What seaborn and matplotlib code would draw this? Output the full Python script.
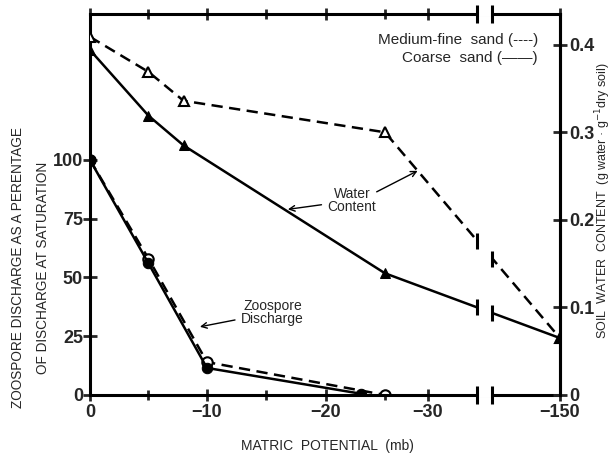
import numpy as np
import matplotlib
matplotlib.use('Agg')
import matplotlib.pyplot as plt
import seaborn as sns

# matric potential (mb) and measured values
pot_dis_mf = [0, -5, -10, -25]
dis_mf = [100, 58, 14, 0]
pot_dis_c = [0, -5, -10, -23]
dis_c = [100, 56, 11.5, 0.5]

pot_wat = [0, -5, -8, -25, -150]
wat_mf = [0.409, 0.369, 0.336, 0.300, 0.065]
wat_c = [0.394, 0.319, 0.285, 0.139, 0.065]

x_ticks = [0, -10, -20, -30, -150]
x_ticklabels = ['0', '\u221210', '\u221220', '\u221230', '\u2212150']
x_minor = [-5, -15, -25]
left_ticks = [0, 25, 50, 75, 100]
right_ticks = [0, 0.1, 0.2, 0.3, 0.4]
right_ticklabels = ['0', '0.1', '0.2', '0.3', '0.4']

BREAK = -40

# broken x axis: piecewise linear scale, increasing in x
knot_val = np.array([-300, -150, -40, -30, -25, -20, -10, 0, 50])
knot_pos = np.array([-560, -470, -401, -338, -295, -236, -117, 0, 585])


def fwd(x):
    return np.interp(np.asarray(x, dtype=float), knot_val, knot_pos)


def inv(p):
    return np.interp(np.asarray(p, dtype=float), knot_pos, knot_val)


sns.set_style('white')
plt.rcParams['font.family'] = ['Liberation Sans', 'DejaVu Sans']

fig = plt.figure(figsize=(6.16, 4.54), dpi=100)
ax = fig.add_axes([0.146, 0.130, 0.763, 0.839])
ax.set_xscale('function', functions=(fwd, inv))
ax2 = ax.twinx()

dash = (0, (4.5, 2.6))

# zoospore discharge (left axis)
sns.lineplot(x=pot_dis_mf, y=dis_mf, ax=ax, color='black', lw=1.8, linestyle=dash,
             marker='o', markersize=7.5, markerfacecolor='white', markeredgecolor='black',
             markeredgewidth=1.5, sort=False)
sns.lineplot(x=pot_dis_c, y=dis_c, ax=ax, color='black', lw=1.8,
             marker='o', markersize=7.5, markerfacecolor='black', markeredgecolor='black', sort=False)

# water content (right axis)
sns.lineplot(x=pot_wat, y=wat_mf, ax=ax2, color='black', lw=1.8, linestyle=dash,
             marker='^', markersize=7, markerfacecolor='white', markeredgecolor='black',
             markeredgewidth=1.5, sort=False)
sns.lineplot(x=pot_wat, y=wat_c, ax=ax2, color='black', lw=1.8,
             marker='^', markersize=7, markerfacecolor='black', markeredgecolor='black', sort=False)

# break marks on the water-content lines
px = fwd(pot_wat)[::-1]
for yy in (wat_mf, wat_c):
    xb = np.array([BREAK + 2.2, BREAK - 2.2])
    yb = np.interp(fwd(xb), px, np.array(yy)[::-1])
    ax2.plot(xb, yb, color='white', lw=5, solid_capstyle='butt', zorder=5)
    ax2.plot(xb, yb, ls='none', marker='|', markersize=11, markeredgewidth=2.2,
             color='black', zorder=6)

ax.set_xlim(0, -150)
ax.set_ylim(0, 162)
ax2.set_ylim(0, 0.435)

ax.set_xticks(x_ticks)
ax.set_xticklabels(x_ticklabels)
ax.set_xticks(x_minor, minor=True)
ax.set_yticks(left_ticks)
ax.set_yticklabels([str(t) for t in left_ticks])
ax2.set_yticks(right_ticks)
ax2.set_yticklabels(right_ticklabels)

for a in (ax, ax2):
    for s in a.spines.values():
        s.set_linewidth(2.2)
        s.set_color('black')
ax2.spines['left'].set_visible(False)
ax2.spines['top'].set_visible(False)
ax2.spines['bottom'].set_visible(False)

ax.tick_params(axis='x', which='both', direction='inout', top=True, bottom=True,
               length=9, width=2, labelsize=13, pad=2)
ax.tick_params(axis='x', which='minor', length=7)
ax.tick_params(axis='y', direction='inout', length=10, width=2, labelsize=13, pad=0)
ax2.tick_params(axis='y', direction='inout', length=10, width=2, labelsize=13, pad=2)
for lab in ax.get_xticklabels() + ax.get_yticklabels() + ax2.get_yticklabels():
    lab.set_fontweight('bold')
ax.set_xlabel('')
ax.set_ylabel('')
ax2.set_ylabel('')

# break on top and bottom spines
for yy in (0, 1):
    ax.plot([BREAK + 2.2, BREAK - 2.2], [yy, yy], transform=ax.get_xaxis_transform(),
            color='white', lw=4, clip_on=False, zorder=10, solid_capstyle='butt')
    ax.plot([BREAK + 2.2, BREAK - 2.2], [yy, yy], transform=ax.get_xaxis_transform(),
            ls='none', marker='|', markersize=13, markeredgewidth=2.2, color='black',
            clip_on=False, zorder=11)

# legend as text
ax.text(0.953, 0.932, 'Medium-fine  sand (----)', transform=ax.transAxes,
        ha='right', va='center', fontsize=11)
ax.text(0.953, 0.884, 'Coarse  sand (\u2014\u2014)', transform=ax.transAxes,
        ha='right', va='center', fontsize=11)

# annotations
ax2.annotate('Water\nContent', xy=(-16.8, 0.212), xytext=(-22.2, 0.222), ha='center', va='center',
             fontsize=10, linespacing=0.95,
             arrowprops=dict(arrowstyle='->', color='black', lw=1, shrinkA=2, shrinkB=0))
ax2.annotate('', xy=(-28.8, 0.256), xytext=(-24.3, 0.232),
             arrowprops=dict(arrowstyle='->', color='black', lw=1, shrinkA=0, shrinkB=0))
ax.annotate('Zoospore\nDischarge', xy=(-9.4, 29), xytext=(-15.5, 35), ha='center', va='center',
            fontsize=10, linespacing=0.95,
            arrowprops=dict(arrowstyle='->', color='black', lw=1, shrinkA=2, shrinkB=0))

fig.text(0.532, 0.003, 'MATRIC  POTENTIAL  (mb)', ha='center', va='bottom', fontsize=10)
fig.text(0.030, 0.41, 'ZOOSPORE DISCHARGE AS A PERENTAGE', rotation=90,
         ha='center', va='center', fontsize=9.8)
fig.text(0.070, 0.41, 'OF DISCHARGE AT SATURATION', rotation=90,
         ha='center', va='center', fontsize=9.8)
fig.text(0.980, 0.557, 'SOIL  WATER  CONTENT  (g water \u00b7 g$^{-1}$dry soil)', rotation=90,
         ha='center', va='center', fontsize=9)

fig.savefig('out.png', dpi=100)
